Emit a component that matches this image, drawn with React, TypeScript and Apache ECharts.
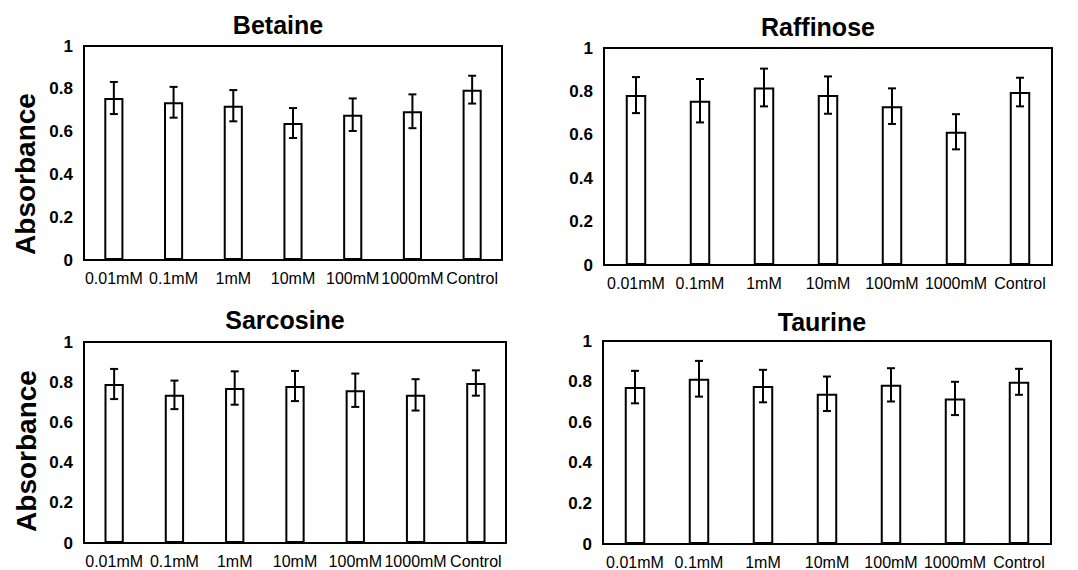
import React, { useEffect, useRef } from "react";
import * as echarts from "echarts";

const categories = ["0.01mM", "0.1mM", "1mM", "10mM", "100mM", "1000mM", "Control"];
const yTicks = [0, 0.2, 0.4, 0.6, 0.8, 1];

const betaineMean = [0.757, 0.737, 0.721, 0.64, 0.679, 0.695, 0.796];
const betaineErr = [0.075, 0.072, 0.073, 0.07, 0.076, 0.079, 0.065];
const raffinoseMean = [0.783, 0.757, 0.818, 0.783, 0.732, 0.614, 0.797];
const raffinoseErr = [0.083, 0.1, 0.087, 0.086, 0.082, 0.081, 0.066];
const sarcosineMean = [0.791, 0.737, 0.771, 0.781, 0.76, 0.737, 0.796];
const sarcosineErr = [0.075, 0.071, 0.083, 0.075, 0.083, 0.078, 0.063];
const taurineMean = [0.773, 0.814, 0.778, 0.74, 0.784, 0.717, 0.799];
const taurineErr = [0.08, 0.088, 0.08, 0.085, 0.082, 0.082, 0.064];

const panels = [
  { title: "Betaine", mean: betaineMean, err: betaineErr },
  { title: "Raffinose", mean: raffinoseMean, err: raffinoseErr },
  { title: "Sarcosine", mean: sarcosineMean, err: sarcosineErr },
  { title: "Taurine", mean: taurineMean, err: taurineErr },
];

const grids = [
  { left: 84, top: 46, width: 418, height: 214 },
  { left: 604, top: 48, width: 448, height: 217 },
  { left: 84, top: 342, width: 422, height: 201 },
  { left: 603, top: 341, width: 448, height: 204 },
];

const titlePos = [
  [278, 25],
  [818, 26.5],
  [285, 319.5],
  [822, 322],
];

const FONT = "'Liberation Sans', Arial, sans-serif";

export default function App() {
  const ref = useRef<HTMLDivElement>(null);

  useEffect(() => {
    if (!ref.current) return;
    const chart = echarts.init(ref.current, undefined, { renderer: "svg" });

    const xAxis: any[] = [];
    const yAxis: any[] = [];
    const series: any[] = [];
    const graphic: any[] = [];

    panels.forEach((p, i) => {
      xAxis.push({
        type: "category",
        gridIndex: i,
        data: categories,
        axisLine: { show: true, lineStyle: { color: "#000", width: 2 } },
        axisTick: { show: false },
        axisLabel: {
          interval: 0,
          color: "#000",
          fontSize: 16,
          fontFamily: FONT,
          margin: 10,
        },
      });
      yAxis.push({
        type: "value",
        gridIndex: i,
        min: yTicks[0],
        max: yTicks[yTicks.length - 1],
        interval: 0.2,
        axisLine: { show: true, lineStyle: { color: "#000", width: 2 } },
        axisTick: { show: false },
        splitLine: { show: false },
        axisLabel: {
          color: "#000",
          fontSize: 17,
          fontWeight: "bold",
          fontFamily: FONT,
          margin: 11,
        },
      });
      series.push({
        type: "bar",
        xAxisIndex: i,
        yAxisIndex: i,
        data: p.mean,
        barWidth: "32%",
        itemStyle: { color: "#fff", borderColor: "#000", borderWidth: 2 },
        silent: true,
      });
      series.push({
        type: "custom",
        xAxisIndex: i,
        yAxisIndex: i,
        data: p.mean.map((m, k) => [k, m - p.err[k], m + p.err[k]]),
        encode: { x: 0, y: [1, 2] },
        silent: true,
        z: 5,
        renderItem: (params: any, api: any) => {
          const x = api.value(0);
          const lo = api.coord([x, api.value(1)]);
          const hi = api.coord([x, api.value(2)]);
          const hw = 4;
          const style = { stroke: "#000", lineWidth: 2 };
          return {
            type: "group",
            children: [
              { type: "line", shape: { x1: hi[0], y1: hi[1], x2: lo[0], y2: lo[1] }, style },
              { type: "line", shape: { x1: hi[0] - hw, y1: hi[1], x2: hi[0] + hw, y2: hi[1] }, style },
              { type: "line", shape: { x1: lo[0] - hw, y1: lo[1], x2: lo[0] + hw, y2: lo[1] }, style },
            ],
          };
        },
      });
      graphic.push({
        type: "text",
        x: titlePos[i][0],
        y: titlePos[i][1],
        style: {
          text: p.title,
          font: `bold 25px ${FONT}`,
          fill: "#000",
          align: "center",
          verticalAlign: "middle",
        },
      });
    });

    graphic.push({
      type: "text",
      x: 25,
      y: 174,
      rotation: Math.PI / 2,
      style: {
        text: "Absorbance",
        font: `bold 28px ${FONT}`,
        fill: "#000",
        align: "center",
        verticalAlign: "middle",
      },
    });
    graphic.push({
      type: "text",
      x: 26,
      y: 451,
      rotation: Math.PI / 2,
      style: {
        text: "Absorbance",
        font: `bold 28px ${FONT}`,
        fill: "#000",
        align: "center",
        verticalAlign: "middle",
      },
    });

    chart.setOption({
      animation: false,
      backgroundColor: "#fff",
      grid: grids.map((g) => ({
        ...g,
        show: true,
        borderColor: "#000",
        borderWidth: 2,
        backgroundColor: "transparent",
      })),
      xAxis,
      yAxis,
      series,
      graphic,
    });

    return () => chart.dispose();
  }, []);

  return (
    <div
      ref={ref}
      style={{ position: "absolute", left: 0, top: 0, width: 1078, height: 570 }}
    />
  );
}
